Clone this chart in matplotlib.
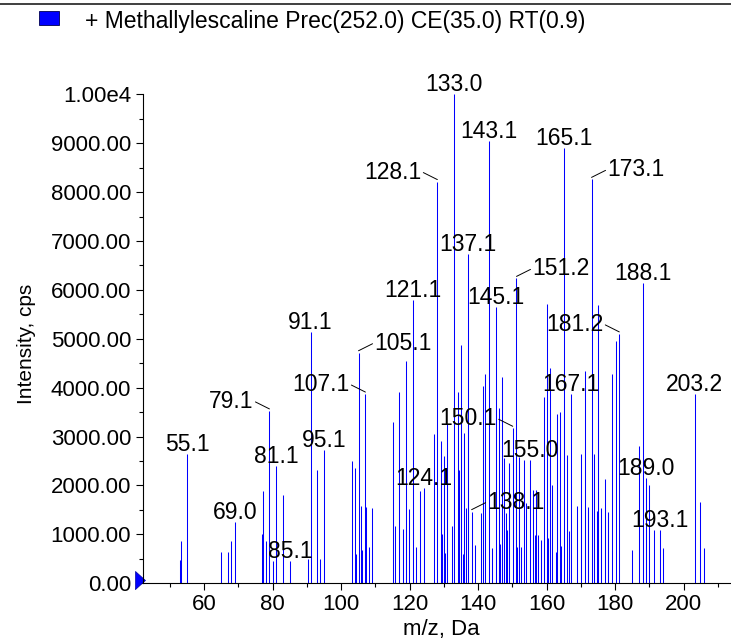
import matplotlib
matplotlib.use('Agg')
import matplotlib.pyplot as plt
from matplotlib import font_manager
from matplotlib.ticker import MultipleLocator, FuncFormatter
from matplotlib.transforms import offset_copy
from matplotlib.patches import Rectangle
from matplotlib.lines import Line2D

# ---------------- data ----------------
mz = [53.0, 53.2, 55.1, 65.0, 67.0, 67.9, 69.0, 77.0, 77.2, 78.1, 79.1, 80.0,
      81.1, 83.0, 85.1, 90.3, 91.1, 93.0, 94.0, 95.1, 103.1, 104.1, 104.4,
      105.1, 105.8, 106.2, 107.1, 107.4, 108.2, 109.1, 115.1, 115.8, 117.0,
      118.0, 119.0, 119.9, 121.1, 122.0, 123.0, 124.1, 127.0, 128.1, 129.1,
      129.4, 130.0, 130.3, 131.0, 132.3, 133.0, 134.0, 134.5, 135.0, 135.5,
      136.0, 136.5, 137.1, 138.1, 139.1, 140.7, 141.3, 142.1, 143.1, 144.1,
      145.1, 146.0, 146.5, 147.0, 147.6, 148.1, 148.5, 149.0, 150.1, 151.2,
      151.4, 152.0, 152.6, 153.3, 154.1, 155.0, 156.1, 156.5, 157.0, 157.6,
      158.3, 159.1, 160.1, 160.5, 161.1, 161.6, 162.6, 163.0, 164.0, 164.2,
      165.1, 165.9, 166.6, 167.1, 168.8, 170.0, 171.1, 172.1, 173.1, 173.9,
      174.7, 175.1, 176.0, 177.1, 178.0, 179.0, 180.1, 181.2, 185.0, 187.0,
      188.1, 189.0, 190.0, 191.2, 193.1, 194.1, 203.2, 204.8, 206.0]
intensity = [480, 870, 2640, 630, 650, 865, 1255, 1000, 1890, 865, 3525, 460,
             2390, 1805, 465, 490, 5135, 2315, 495, 2720, 2500, 2365, 600,
             4715, 1580, 680, 3870, 1560, 750, 1540, 3300, 1170, 3920,
             1120, 4540, 1525, 5795, 735, 1895, 1940, 3045, 8215, 2910,
             1015, 2600, 610, 3260, 1180, 10000, 3920, 2315, 4865, 605,
             3080, 1535, 6735, 1465, 790, 1430, 4035, 4270, 9045, 715,
             5655, 3580, 810, 4225, 2555, 1430, 1090, 2455, 3170, 6235,
             745, 2590, 745, 2520, 1635, 2520, 1905, 985, 1905, 985,
             885, 3820, 5715, 920, 4395, 2000, 645, 3470, 3495, 760,
             8895, 2625, 1075, 3865, 1580, 2640, 4340, 1555, 8260, 2645,
             1485, 5690, 1545, 2140, 1465, 4275, 4960, 5100, 680, 2810,
             6135, 2160, 2010, 1090, 1090, 715, 3865, 1670, 730]

label_mz = [55.1, 69.0, 79.1, 81.1, 85.1, 91.1, 95.1, 105.1, 107.1, 121.1,
            124.1, 128.1, 133.0, 137.1, 138.1, 143.1, 145.1, 150.1, 151.2,
            155.0, 165.1, 167.1, 173.1, 181.2, 188.1, 189.0, 193.1, 203.2]
label_side = ['c', 'c', 'l', 'c', 'c', 'c', 'c', 'r', 'l', 'c',
              'c', 'l', 'c', 'c', 'r', 'c', 'c', 'l', 'r',
              'c', 'c', 'c', 'r', 'l', 'c', 'c', 'c', 'c']

x_ticks = [60, 80, 100, 120, 140, 160, 180, 200]
y_ticks = [0, 1000, 2000, 3000, 4000, 5000, 6000, 7000, 8000, 9000, 10000]
x_range = (42.2, 213.8)
title = '+ Methallylescaline Prec(252.0) CE(35.0) RT(0.9)'
x_label = 'm/z, Da'
y_label = 'Intensity, cps'

# ---------------- style ----------------
W, H = 731, 639
names = {f.name for f in font_manager.fontManager.ttflist}
base_font = 'Liberation Sans' if 'Liberation Sans' in names else 'DejaVu Sans'
if 'Liberation Sans Narrow' in names:
    lab_font, lab_size = 'Liberation Sans Narrow', 18.5
else:
    lab_font, lab_size = base_font, 16.5
plt.rcParams['font.family'] = [base_font, 'DejaVu Sans']

fig = plt.figure(figsize=(W / 100, H / 100), dpi=100)
ax_l, ax_r, ax_b, ax_t = 143, 731, 583.3, 94.3
ax = fig.add_axes([ax_l / W, (H - ax_b) / H, (ax_r - ax_l) / W, (ax_b - ax_t) / H])

ax.vlines(mz, 0, intensity, colors='#0000FF', linewidth=0.75)
ax.set_xlim(*x_range)
ax.set_ylim(0, 10000)

for s in ['top', 'right']:
    ax.spines[s].set_visible(False)
for s in ['left', 'bottom']:
    ax.spines[s].set_linewidth(0.8)
    ax.spines[s].set_color('black')

ax.set_xticks(x_ticks)
ax.set_yticks(y_ticks)
ax.xaxis.set_minor_locator(MultipleLocator(10))
ax.yaxis.set_minor_locator(MultipleLocator(500))
ax.yaxis.set_major_formatter(FuncFormatter(
    lambda v, p: '1.00e4' if v >= 10000 else f'{v:.2f}'))
ax.tick_params(axis='both', which='major', labelsize=16, width=0.8,
               length=5.0, direction='out')
ax.tick_params(axis='both', which='minor', width=0.8, length=2.6,
               direction='out')
ax.tick_params(axis='x', which='major', pad=3.0)
ax.tick_params(axis='y', which='major', pad=3.6)

ax.set_xlabel(x_label, fontsize=16)
ax.xaxis.set_label_coords((441 - ax_l) / (ax_r - ax_l), (ax_b - 619) / (ax_b - ax_t))
ax.set_ylabel(y_label, fontsize=15)
ax.yaxis.label.set_va('center')
ax.yaxis.label.set_ha('center')
ax.yaxis.set_label_coords((26 - ax_l) / (ax_r - ax_l), (ax_b - 344) / (ax_b - ax_t))

# peak labels
peak_lookup = dict(zip(mz, intensity))
for m, side in zip(label_mz, label_side):
    inten = peak_lookup[m]
    txt = f'{m:.1f}'
    if side == 'c':
        ax.annotate(txt, xy=(m, inten), xytext=(0, 3), textcoords='offset pixels',
                    ha='center', va='baseline', fontsize=lab_size, family=lab_font,
                    annotation_clip=False)
    else:
        sgn = -1 if side == 'l' else 1
        ax.annotate(txt, xy=(m, inten), xytext=(sgn * 16, 3), textcoords='offset pixels',
                    ha='right' if side == 'l' else 'left', va='baseline',
                    fontsize=lab_size, family=lab_font, annotation_clip=False)
        ax.annotate('', xy=(m, inten),
                    xycoords=offset_copy(ax.transData, fig=fig, x=0, y=2, units='dots'),
                    xytext=(sgn * 14, 7), textcoords='offset pixels',
                    arrowprops=dict(arrowstyle='-', lw=0.7, color='black',
                                    shrinkA=0, shrinkB=0),
                    annotation_clip=False)

# precursor triangle at the origin
tri = [(-0.55, -1), (-0.55, 1), (0.55, 0), (-0.55, -1)]
ax.plot([x_range[0]], [0], marker=tri, ms=13, color='#0000FF', mec='#0000A0',
        mew=0.5, clip_on=False, linestyle='none',
        transform=offset_copy(ax.transData, fig=fig, x=-2.5, y=3.3, units='dots'))

# header
fig.add_artist(Line2D([0, 1], [1 - 4 / H, 1 - 4 / H], transform=fig.transFigure,
                      color='#303030', lw=1.3))
fig.add_artist(Rectangle((39 / W, 1 - 25 / H), 20 / W, 14 / H, transform=fig.transFigure,
                         facecolor='#0000FF', edgecolor='#000050', lw=0.6))
fig.text(85 / W, 1 - 28 / H, title, fontsize=16.5, va='baseline', ha='left')

fig.savefig('out.png', dpi=100)
